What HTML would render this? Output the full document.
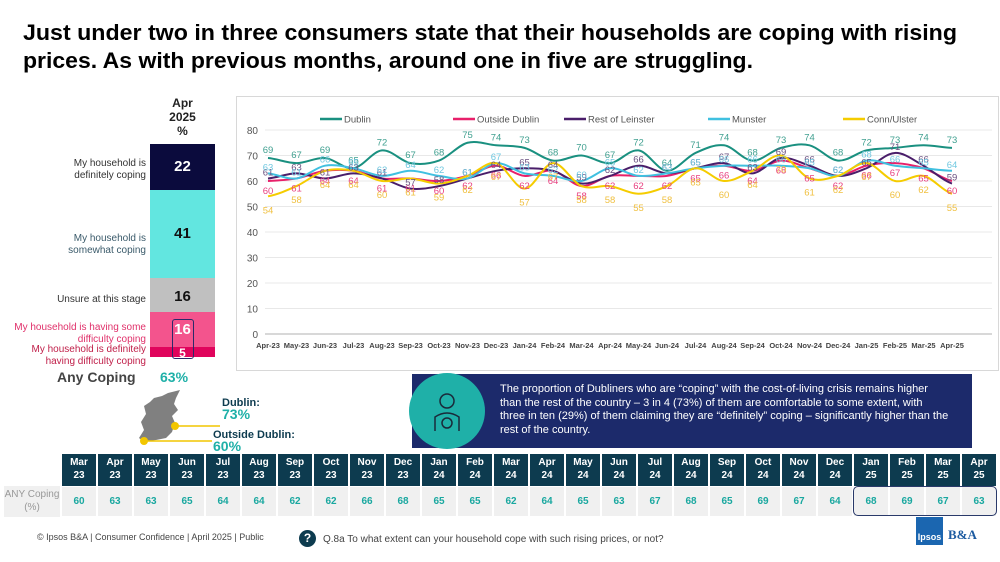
<!DOCTYPE html>
<html><head><meta charset="utf-8">
<style>
body{margin:0;width:1000px;height:562px;background:#fff;font-family:"Liberation Sans",sans-serif;position:relative;overflow:hidden}
.a{position:absolute}
.lbl{font-size:10px;text-align:right;line-height:11.5px;white-space:nowrap}
</style></head><body>
<svg class="a" style="left:0;top:0" width="1000" height="80">
<text x="23" y="40" font-size="22" font-weight="bold" textLength="934" lengthAdjust="spacingAndGlyphs" font-family="Liberation Sans">Just under two in three consumers state that their households are coping with rising</text>
<text x="23" y="68" font-size="22" font-weight="bold" textLength="730" lengthAdjust="spacingAndGlyphs" font-family="Liberation Sans">prices. As with previous months, around one in five are struggling.</text>
</svg>

<div class="a" style="left:150px;top:96px;width:65px;text-align:center;font-weight:bold;font-size:12px;line-height:14px;color:#222">Apr<br>2025<br>%</div>
<div class="a" style="left:150px;top:144px;width:65px;height:46px;background:#0b0b3d;color:#fff;font-weight:bold;font-size:15px;line-height:46px;text-align:center">22</div>
<div class="a" style="left:150px;top:190px;width:65px;height:88px;background:#62e6e0;color:#111;font-weight:bold;font-size:15px;line-height:88px;text-align:center">41</div>
<div class="a" style="left:150px;top:278px;width:65px;height:34px;background:#c0c0c0;color:#111;font-weight:bold;font-size:15px;line-height:38px;text-align:center">16</div>
<div class="a" style="left:150px;top:312px;width:65px;height:35px;background:#f3548d;color:#fff;font-weight:bold;font-size:15px;line-height:36px;text-align:center">16</div>
<div class="a" style="left:150px;top:347px;width:65px;height:10px;background:#e0045c;color:#fff;font-weight:bold;font-size:12px;line-height:12px;text-align:center">5</div>
<div class="a" style="left:172px;top:319px;width:20px;height:38px;border:1.5px solid #2a2a6a;border-radius:3px"></div>

<div class="a lbl" style="right:854px;top:158px;color:#333">My household is<br>definitely coping</div>
<div class="a lbl" style="right:854px;top:233px;color:#3a5a6a">My household is<br>somewhat coping</div>
<div class="a lbl" style="right:854px;top:294px;color:#333">Unsure at this stage</div>
<div class="a lbl" style="right:854px;top:322px;color:#e0306a">My household is having some<br>difficulty coping</div>
<div class="a lbl" style="right:854px;top:344px;color:#c0204a">My household is definitely<br>having difficulty coping</div>
<div class="a" style="left:57px;top:369px;font-size:14px;font-weight:bold;color:#444">Any Coping</div>
<div class="a" style="left:160px;top:369px;font-size:14px;font-weight:bold;color:#1fb0a8">63%</div>

<svg class="a" style="left:130px;top:390px" width="160" height="70">
<path d="M38 3 L50 0 L46 8 L44 14 L48 20 L42 26 L45 33 L42 42 L36 48 L26 50 L14 52 L9 48 L14 40 L11 32 L16 24 L14 16 L20 12 L24 8 L32 6 Z" fill="#808080"/>
<line x1="45" y1="36" x2="90" y2="36" stroke="#f2c600" stroke-width="1.5"/>
<circle cx="45" cy="36" r="4" fill="#f2c600"/>
<line x1="14" y1="51" x2="82" y2="51" stroke="#f2c600" stroke-width="1.5"/>
<circle cx="14" cy="51" r="4" fill="#f2c600"/>
</svg>
<div class="a" style="left:222px;top:397px;font-size:11px;font-weight:bold;color:#0d3b4f">Dublin:</div>
<div class="a" style="left:222px;top:406px;font-size:14px;font-weight:bold;color:#1fb0a8">73%</div>
<div class="a" style="left:213px;top:429px;font-size:11px;font-weight:bold;color:#0d3b4f">Outside Dublin:</div>
<div class="a" style="left:213px;top:438px;font-size:14px;font-weight:bold;color:#1fb0a8">60%</div>

<div class="a" style="left:412px;top:374px;width:560px;height:74px;background:#1c2a6b"></div>
<div class="a" style="left:409px;top:373px;width:76px;height:76px;border-radius:50%;background:#1fb0a8"></div>
<svg class="a" style="left:409px;top:373px" width="76" height="76"><g fill="none" stroke="#1a2a3a" stroke-width="1.5"><circle cx="38" cy="28" r="7"/><path d="M26 58 V44 Q38 36 50 44 V58"/><circle cx="38" cy="50" r="5"/></g></svg>
<div class="a" style="left:500px;top:383px;width:450px;font-size:11px;line-height:13.5px;color:#fff">The proportion of Dubliners who are “coping” with the cost-of-living crisis remains higher than the rest of the country – 3 in 4 (73%) of them are comfortable to some extent, with three in ten (29%) of them claiming they are “definitely” coping – significantly higher than the rest of the country.</div>

<div class="a" style="left:236px;top:96px;width:761px;height:273px;border:1px solid #d8d8d8"></div>
<svg id="ch" class="a" style="left:0;top:0" width="1000" height="370" font-family="Liberation Sans"></svg>

<div id="tb" class="a" style="left:0;top:454px;width:1000px;height:62px"></div>
<div class="a" style="left:4px;top:486px;width:56px;height:29px;background:#f0f0f0;color:#999;font-size:10px;text-align:center;line-height:13px;padding-top:2px">ANY Coping<br>(%)</div>
<div class="a" style="left:853px;top:486px;width:142px;height:28px;border:1.5px solid #2a3a6a;border-radius:5px"></div>

<div class="a" style="left:37px;top:532px;font-size:9px;color:#444">© Ipsos B&amp;A | Consumer Confidence | April 2025 |  Public</div>
<div class="a" style="left:299px;top:530px;width:17px;height:17px;border-radius:50%;background:#0d3b4f;color:#fff;font-size:12px;font-weight:bold;text-align:center;line-height:17px">?</div>
<div class="a" style="left:323px;top:534px;font-size:10px;color:#444">Q.8a To what extent can your household cope with such rising prices, or not?</div>
<div class="a" style="left:916px;top:517px;width:27px;height:28px;background:#1b66b0;color:#fff;font-size:9px;font-weight:bold;text-align:center;line-height:40px">Ipsos</div>
<div class="a" style="left:948px;top:527px;font-family:'Liberation Serif',serif;font-weight:bold;font-size:13px;color:#1b5aa0">B&amp;A</div>

<script>
var months=["Apr-23","May-23","Jun-23","Jul-23","Aug-23","Sep-23","Oct-23","Nov-23","Dec-23","Jan-24","Feb-24","Mar-24","Apr-24","May-24","Jun-24","Jul-24","Aug-24","Sep-24","Oct-24","Nov-24","Dec-24","Jan-25","Feb-25","Mar-25","Apr-25"];
var S=[
["Dublin","#1a9080",[69,67,69,65,72,67,68,75,74,73,68,70,67,72,64,71,74,68,73,74,68,72,73,74,73]],
["Outside Dublin","#e8206a",[60,61,64,64,61,61,60,62,66,62,64,58,62,62,62,65,66,64,68,65,62,66,67,65,60]],
["Rest of Leinster","#4a1e6a",[61,63,61,63,61,57,58,61,64,65,64,59,62,66,63,65,67,63,69,66,62,65,71,66,59]],
["Munster","#40c0e0",[63,61,66,65,62,64,62,61,67,63,62,60,65,62,63,65,66,66,66,65,62,68,66,65,64]],
["Conn/Ulster","#f5cc00",[54,58,64,64,60,61,59,62,67,57,67,58,58,55,58,65,60,64,70,61,62,67,60,62,55]]];
var lc=["#40a090","#e84080","#6a5080","#70c8e0","#f0c040"];
var X=function(i){return 268+i*28.5},Y=function(v){return 334-v*2.55};
var h='';
for(var v=0;v<=80;v+=10){h+='<line x1="265" x2="992" y1="'+Y(v)+'" y2="'+Y(v)+'" stroke="#e8e8e8"/>';h+='<text x="258" y="'+(Y(v)+4)+'" font-size="10" fill="#555" text-anchor="end">'+v+'</text>';}
h+='<line x1="265" x2="992" y1="334" y2="334" stroke="#ccc" stroke-width="1.5"/>';
months.forEach(function(m,i){h+='<text x="'+X(i)+'" y="348" font-size="7.5" font-weight="bold" fill="#444" text-anchor="middle">'+m+'</text>';});
var lx=[320,453,564,708,843];
S.forEach(function(s,k){
 h+='<line x1="'+lx[k]+'" x2="'+(lx[k]+22)+'" y1="119" y2="119" stroke="'+s[1]+'" stroke-width="2.5"/><text x="'+(lx[k]+24)+'" y="122.5" font-size="9.5" fill="#555">'+s[0]+'</text>';
 var d=s[2],p='M'+X(0)+' '+Y(d[0]);
 for(var i=0;i<d.length-1;i++){var p0=d[Math.max(i-1,0)],p1=d[i],p2=d[i+1],p3=d[Math.min(i+2,d.length-1)];
  p+=' C'+(X(i)+28.5/3)+' '+Y(p1+(p2-p0)/6)+' '+(X(i+1)-28.5/3)+' '+Y(p2-(p3-p1)/6)+' '+X(i+1)+' '+Y(p2);}
 h+='<path d="'+p+'" fill="none" stroke="'+s[1]+'" stroke-width="2"/>';
});
S.forEach(function(s,k){s[2].forEach(function(v,i){var off=(k==0)?-8:(k==4)?14:(k==1)?10:-6;h+='<text x="'+X(i)+'" y="'+(Y(v)+off+3)+'" font-size="9.5" fill="'+lc[k]+'" text-anchor="middle">'+v+'</text>';});});
document.getElementById('ch').innerHTML=h;
var tm=["Mar","Apr","May","Jun","Jul","Aug","Sep","Oct","Nov","Dec","Jan","Feb","Mar","Apr","May","Jun","Jul","Aug","Sep","Oct","Nov","Dec","Jan","Feb","Mar","Apr"];
var ty=["23","23","23","23","23","23","23","23","23","23","24","24","24","24","24","24","24","24","24","24","24","24","25","25","25","25"];
var tv=[60,63,63,65,64,64,62,62,66,68,65,65,62,64,65,63,67,68,65,69,67,64,68,69,67,63];
var t='';
for(var i=0;i<26;i++){var x=62+i*36;
 t+='<div class="a" style="left:'+x+'px;top:0;width:34px;height:30px;background:#0d3b4f;color:#fff;font-weight:bold;font-size:10px;line-height:13px;text-align:center;padding-top:2px">'+tm[i]+'<br>'+ty[i]+'</div>';
 t+='<div class="a" style="left:'+x+'px;top:33px;width:34px;height:29px;background:#f0f0f0;color:#1aa8a0;font-weight:bold;font-size:10px;line-height:29px;text-align:center">'+tv[i]+'</div>';}
document.getElementById('tb').innerHTML=t;
</script>
</body></html>
